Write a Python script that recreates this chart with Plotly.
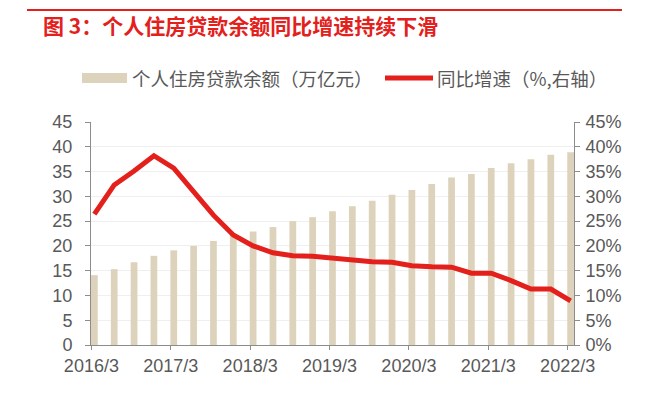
import plotly.graph_objects as go

quarters = ["2016/3", "2016/6", "2016/9", "2016/12",
            "2017/3", "2017/6", "2017/9", "2017/12",
            "2018/3", "2018/6", "2018/9", "2018/12",
            "2019/3", "2019/6", "2019/9", "2019/12",
            "2020/3", "2020/6", "2020/9", "2020/12",
            "2021/3", "2021/6", "2021/9", "2021/12",
            "2022/3"]
balance = [14.1, 15.3, 16.7, 18.0, 19.1, 20.0, 21.0, 22.2, 22.9, 23.8, 25.0, 25.8,
           27.0, 28.0, 29.1, 30.3, 31.3, 32.5, 33.8, 34.5, 35.7, 36.7, 37.5, 38.4, 38.9]
growth = [26.4, 32.3, 35.1, 38.2, 35.7, 30.9, 26.2, 22.2, 20.0, 18.6, 18.0, 17.9,
          17.5, 17.3, 16.8, 16.7, 16.0, 15.8, 15.7, 14.5, 14.5, 13.0, 11.3, 11.3, 8.9]
tick_labels = ["2016/3", "2017/3", "2018/3", "2019/3", "2020/3", "2021/3", "2022/3"]
y_ticks = [0, 5, 10, 15, 20, 25, 30, 35, 40, 45]

title_text = "图 3：个人住房贷款余额同比增速持续下滑"
bar_name = "个人住房贷款余额（万亿元）"
line_name = "同比增速（%,右轴）"

# page has an 8px body margin; work in page pixels and convert
OFF = 8
PAGE_W, PAGE_H = 647, 393
W, H = PAGE_W - OFF, PAGE_H - OFF
PLOT_L, PLOT_R, PLOT_T, PLOT_B = 91, 574, 122, 345   # page px
L, R, T, B = PLOT_L - OFF, W - (PLOT_R - OFF), PLOT_T - OFF, H - (PLOT_B - OFF)
PW, PH = PLOT_R - PLOT_L, PLOT_B - PLOT_T

def px(x):
    return (x - PLOT_L) / PW

def py(y):
    return (PLOT_B - y) / PH

BAR_COLOR = "#ddd3bc"
RED = "#e3201b"
GRAY_TXT = "#595959"
AXIS = "#8c8c8c"

idx = list(range(len(quarters)))
tick_pos = [quarters.index(t) - 0.15 for t in tick_labels]

fig = go.Figure()
fig.add_trace(go.Bar(x=idx, y=balance, name=bar_name, marker_color=BAR_COLOR,
                     marker_line_width=0, width=0.34, yaxis="y", showlegend=False,
                     customdata=quarters))
fig.add_trace(go.Scatter(x=idx, y=growth, name=line_name, mode="lines",
                         line=dict(color=RED, width=5), yaxis="y2", showlegend=False,
                         customdata=quarters))

tick_font = dict(family="Liberation Sans, Arial, sans-serif", size=18, color=GRAY_TXT)

fig.update_layout(
    width=W, height=H,
    margin=dict(l=L, r=R, t=T, b=B, autoexpand=False),
    paper_bgcolor="white", plot_bgcolor="white",
    xaxis=dict(range=[-0.17, 24.17], tickmode="array", tickvals=tick_pos, ticktext=tick_labels,
               showgrid=False, zeroline=False, showline=True, linecolor=AXIS, linewidth=1,
               ticks="outside", ticklen=4, tickcolor=AXIS, tickfont=tick_font,
               ticklabelstandoff=0),
    yaxis=dict(range=[0, 45], tickmode="array", tickvals=y_ticks,
               showgrid=True, gridcolor="#efefef", gridwidth=1, zeroline=False,
               showline=True, linecolor=AXIS, linewidth=1, ticks="outside", ticklen=5,
               tickcolor=AXIS, tickfont=tick_font, ticklabelstandoff=9),
    yaxis2=dict(range=[0, 45], tickmode="array", tickvals=y_ticks,
                ticktext=[f"{v}%" for v in y_ticks], overlaying="y", side="right",
                showgrid=False, zeroline=False, showline=True, linecolor=AXIS, linewidth=1,
                ticks="outside", ticklen=5, tickcolor=AXIS, tickfont=tick_font,
                ticklabelstandoff=2),
)

shapes = [
    dict(type="line", xref="paper", yref="paper", x0=px(27), x1=px(622), y0=py(10), y1=py(10),
         line=dict(color=RED, width=2)),
    dict(type="rect", xref="paper", yref="paper", x0=px(82), x1=px(127), y0=py(83), y1=py(73),
         fillcolor=BAR_COLOR, line=dict(width=0)),
    dict(type="line", xref="paper", yref="paper", x0=px(385), x1=px(433), y0=py(78), y1=py(78),
         line=dict(color=RED, width=5)),
]
fig.update_layout(shapes=shapes)

cjk = "Noto Sans CJK SC, sans-serif"
fig.add_annotation(text="<b>" + title_text + "</b>", xref="paper", yref="paper",
                   x=px(41), y=py(25), xanchor="left", yanchor="middle", showarrow=False,
                   font=dict(family=cjk, size=21, color=RED))
fig.add_annotation(text=bar_name, xref="paper", yref="paper",
                   x=px(130), y=py(78), xanchor="left", yanchor="middle", showarrow=False,
                   font=dict(family=cjk, size=18.5, color=GRAY_TXT))
fig.add_annotation(text=line_name, xref="paper", yref="paper",
                   x=px(435), y=py(78), xanchor="left", yanchor="middle", showarrow=False,
                   font=dict(family=cjk, size=18.5, color=GRAY_TXT))

fig.write_html("out.html")
